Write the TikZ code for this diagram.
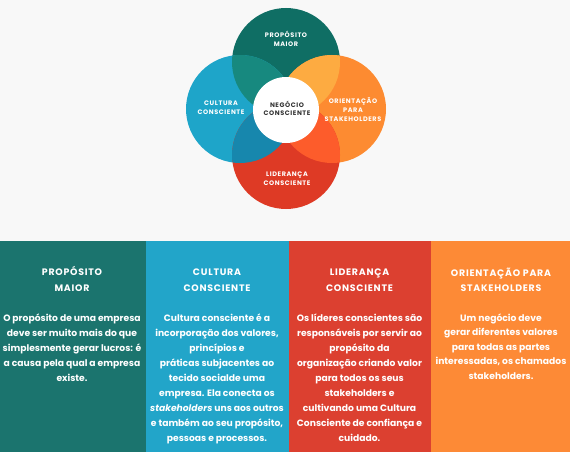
\documentclass[tikz,border=0pt]{standalone}
\usepackage{fontspec}
\setmainfont{Poppins}
\newfontfamily\pbody{Poppins}
\newfontfamily\phead{Poppins}[LetterSpace=8]
\newfontfamily\pcirc{Poppins}[LetterSpace=9]
\definecolor{bg}{HTML}{F8F8F8}
\definecolor{pone}{HTML}{1B746E}
\definecolor{ptwo}{HTML}{22A5C9}
\definecolor{pthree}{HTML}{DC4030}
\definecolor{pfour}{HTML}{FD8A36}
\definecolor{ctop}{HTML}{0F6E64}
\definecolor{cleft}{HTML}{1EA5C9}
\definecolor{cright}{HTML}{FD8B31}
\definecolor{cbot}{HTML}{DE3A25}
\definecolor{otl}{HTML}{17897F}
\definecolor{otr}{HTML}{FDAB41}
\definecolor{obl}{HTML}{1787AD}
\definecolor{obr}{HTML}{FD5C2B}
\definecolor{dark}{HTML}{333333}
\tikzset{
  body/.style={text=white, inner sep=0pt, font=\pbody\bfseries\fontsize{9.2}{12}\selectfont, text height=7pt, text depth=2pt},
  heading/.style={text=white, inner sep=0pt, font=\phead\bfseries\fontsize{9.4}{12}\selectfont, text height=7pt, text depth=2pt},
  clabel/.style={text=white, inner sep=0pt, align=center, font=\pcirc\bfseries\fontsize{6.5}{8.6}\selectfont},
}
\begin{document}
\begin{tikzpicture}[x=1pt,y=-1pt]
\fill[bg] (0,0) rectangle (570,452);
\useasboundingbox (0,0) rectangle (570,452);
% panels
\fill[pone] (0,241) rectangle (145.5,452);
\fill[ptwo] (145.5,241) rectangle (288.5,452);
\fill[pthree] (288.5,241) rectangle (430.5,452);
\fill[pfour] (430.5,241) rectangle (570,452);
% circles
\coordinate (ct) at (286,62);
\coordinate (cl) at (240,109);
\coordinate (cr) at (332,109);
\coordinate (cb) at (286,155);
\coordinate (cc) at (286,110);
\fill[ctop] (ct) circle (54pt);
\fill[cleft] (cl) circle (54pt);
\fill[cright] (cr) circle (54pt);
\fill[cbot] (cb) circle (54pt);
\begin{scope}
  \clip (ct) circle (54pt);
  \fill[otl] (cl) circle (54pt);
  \fill[otr] (cr) circle (54pt);
\end{scope}
\begin{scope}
  \clip (cb) circle (54pt);
  \fill[obl] (cl) circle (54pt);
  \fill[obr] (cr) circle (54pt);
\end{scope}
\fill[white] (cc) circle (33pt);
% circle labels
\node[clabel] (lt) at (286,39) {PROPÓSITO\\MAIOR};
\node[clabel] (ll) at (221,107.5) {CULTURA\\CONSCIENTE};
\node[clabel] (lr) at (353,109.5) {ORIENTAÇÃO\\PARA\\STAKEHOLDERS};
\node[clabel] (lb) at (287,178.5) {LIDERANÇA\\CONSCIENTE};
\node[clabel, text=dark] (lc) at (287,108.5) {NEGÓCIO\\CONSCIENTE};
% panel 1
\node[heading] (h1a) at (72,273) {PROPÓSITO};
\node[heading] (h1b) at (72,288.5) {MAIOR};
\foreach \t [count=\i] in {O propósito de uma empresa, deve ser muito mais do que, simplesmente gerar lucros: é, a causa pela qual a empresa, existe.}
  \node[body] (b1-\i) at (72,{318.5+15.1*(\i-1)}) {\t};
% panel 2
\node[heading] (h2a) at (217,273) {CULTURA};
\node[heading] (h2b) at (217,288.5) {CONSCIENTE};
\foreach \t [count=\i] in {Cultura consciente é a, {incorporação dos valores,}, princípios e, práticas subjacentes ao, tecido socialde uma, empresa. Ela conecta os, {\itshape stakeholders} uns aos outros, {e também ao seu propósito,}, pessoas e processos.}
  \node[body] (b2-\i) at (217,{318.5+15.1*(\i-1)}) {\t};
% panel 3
\node[heading] (h3a) at (359.5,273) {LIDERANÇA};
\node[heading] (h3b) at (359.5,288.5) {CONSCIENTE};
\foreach \t [count=\i] in {Os líderes conscientes são, responsáveis por servir ao, propósito da, organização criando valor, para todos os seus, stakeholders e, cultivando uma Cultura, Consciente de confiança e, cuidado.}
  \node[body] (b3-\i) at (359.5,{318.5+15.1*(\i-1)}) {\t};
% panel 4
\node[heading] (h4a) at (501,274) {ORIENTAÇÃO PARA};
\node[heading] (h4b) at (501,289) {STAKEHOLDERS};
\foreach \t [count=\i] in {Um negócio deve, gerar diferentes valores, para todas as partes, {interessadas, os chamados}, stakeholders.}
  \node[body] (b4-\i) at (501,{318.5+14.6*(\i-1)}) {\t};
\end{tikzpicture}
\end{document}
